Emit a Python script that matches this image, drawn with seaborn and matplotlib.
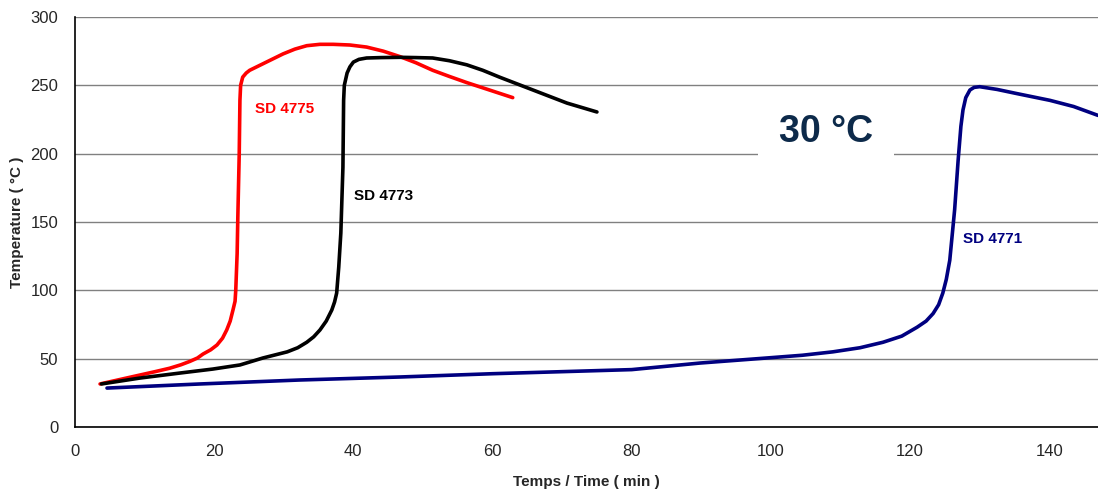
import matplotlib
matplotlib.use("Agg")
import matplotlib.pyplot as plt
import seaborn as sns
import pandas as pd

# SD 4775 (red)
t_4775 = [3.6, 6.5, 9.3, 11.5, 13.6, 15.2, 16.5, 17.6, 18.4, 19.5, 20.4, 21.2, 21.8, 22.3, 22.7, 23.0,
          23.1, 23.3, 23.4, 23.6, 23.7, 23.8, 24.1, 24.6, 25.1, 26.3, 27.5, 28.7, 29.9, 31.6, 33.3,
          35.2, 37.1, 39.5, 41.9, 44.3, 46.7, 49.0, 51.4, 53.8, 56.3, 59.6, 62.9]
T_4775 = [31.5, 34.8, 38, 40.5, 43, 45.5, 48, 50.5, 53.4, 56.5, 60, 65, 71, 77.5, 85.6, 92,
          100, 127, 154, 200, 239, 250, 256, 259, 261, 264, 267, 270, 273, 276.5, 279,
          280, 280, 279.5, 278, 275, 271, 266.5, 261, 256.5, 252, 246.5, 241]

# SD 4773 (black)
t_4773 = [3.8, 9.3, 15.1, 19.8, 23.7, 27.0, 30.5, 32.0, 33.3, 34.3, 35.2, 36.1, 36.9, 37.3, 37.6,
          37.9, 38.2, 38.5, 38.6, 38.7, 39.1, 39.5, 40.0, 40.8, 41.9, 44.0, 46.7, 49.0, 51.4,
          53.8, 56.3, 58.6, 61.0, 65.8, 70.7, 75.0]
T_4773 = [31.5, 35.8, 39.5, 42.4, 45.4, 50.5, 55, 58, 62, 66, 71, 77.5, 85.6, 91.5, 98,
          117, 142, 190, 239, 250, 259, 263.5, 267, 269, 270, 270.3, 270.5, 270.3, 270,
          268, 265, 261, 256, 246.6, 237, 230.5]

# SD 4771 (navy)
t_4771 = [4.6, 18.0, 32.3, 46.7, 60, 80, 89.8, 99.4, 104.5, 108.9, 112.8, 116.1, 118.8, 121.0,
          122.3, 123.3, 124.1, 124.7, 125.2, 125.7, 126.4, 126.9, 127.3, 127.6, 128.0, 128.6,
          129.2, 130.0, 132.5, 135.3, 140.1, 143.5, 147.0]
T_4771 = [28.5, 31.5, 34.4, 36.6, 39, 42, 46.8, 50.5, 52.5, 55, 58, 62, 66.5, 73,
          77.5, 83, 89.5, 98, 108, 122, 159, 195, 220, 232, 241, 246.6,
          248.5, 249, 247, 244, 239, 234.5, 228]

series_names = ["SD 4775", "SD 4773", "SD 4771"]
series_colors = ["#ff0000", "#000000", "#000080"]

x_ticks = [0, 20, 40, 60, 80, 100, 120, 140]
y_ticks = [0, 50, 100, 150, 200, 250, 300]

frames = []
for name, t, T in zip(series_names, [t_4775, t_4773, t_4771], [T_4775, T_4773, T_4771]):
    frames.append(pd.DataFrame({"time": t, "temp": T, "sample": name}))
df = pd.concat(frames, ignore_index=True)

sns.set_style("white")
plt.rcParams["font.family"] = ["Liberation Sans", "DejaVu Sans"]

fig = plt.figure(figsize=(10.98, 4.94), dpi=100)
ax = fig.add_axes([0.0683, 0.1356, 0.9317, 0.8300])

sns.lineplot(data=df, x="time", y="temp", hue="sample", palette=dict(zip(series_names, series_colors)),
             sort=False, estimator=None, units="sample", linewidth=2.6, legend=False, ax=ax, zorder=3)
for line in ax.get_lines():
    line.set_solid_joinstyle("round")
    line.set_solid_capstyle("round")

ax.set_xlim(0, 147)
ax.set_ylim(0, 300)
ax.set_xticks(x_ticks)
ax.set_yticks(y_ticks)
ax.tick_params(axis="both", direction="out", length=4, width=1, color="black",
               labelsize=12, pad=8)
ax.grid(axis="y", color="#808080", linewidth=1)
ax.grid(axis="x", visible=False)
for s in ["top", "right"]:
    ax.spines[s].set_visible(False)
for s in ["left", "bottom"]:
    ax.spines[s].set_color("black")
    ax.spines[s].set_linewidth(1.2)

ax.set_xlabel("Temps / Time ( min )", fontsize=11, fontweight="bold", labelpad=12)
ax.set_ylabel("Temperature ( °C )", fontsize=11, fontweight="bold", labelpad=5)

ax.text(25.9, 233, "SD 4775", color="#ff0000", fontsize=11, fontweight="bold", va="center", ha="left")
ax.text(40.1, 169, "SD 4773", color="#000000", fontsize=11, fontweight="bold", va="center", ha="left")
ax.text(127.6, 137.6, "SD 4771", color="#000080", fontsize=11, fontweight="bold", va="center", ha="left")
ax.text(107.9, 216, "30 °C", color="#0d2a4a", fontsize=27, fontweight="bold", va="center", ha="center",
        bbox=dict(facecolor="white", edgecolor="none", boxstyle="square,pad=0.55"), zorder=4)

fig.savefig("out.png", dpi=100)
